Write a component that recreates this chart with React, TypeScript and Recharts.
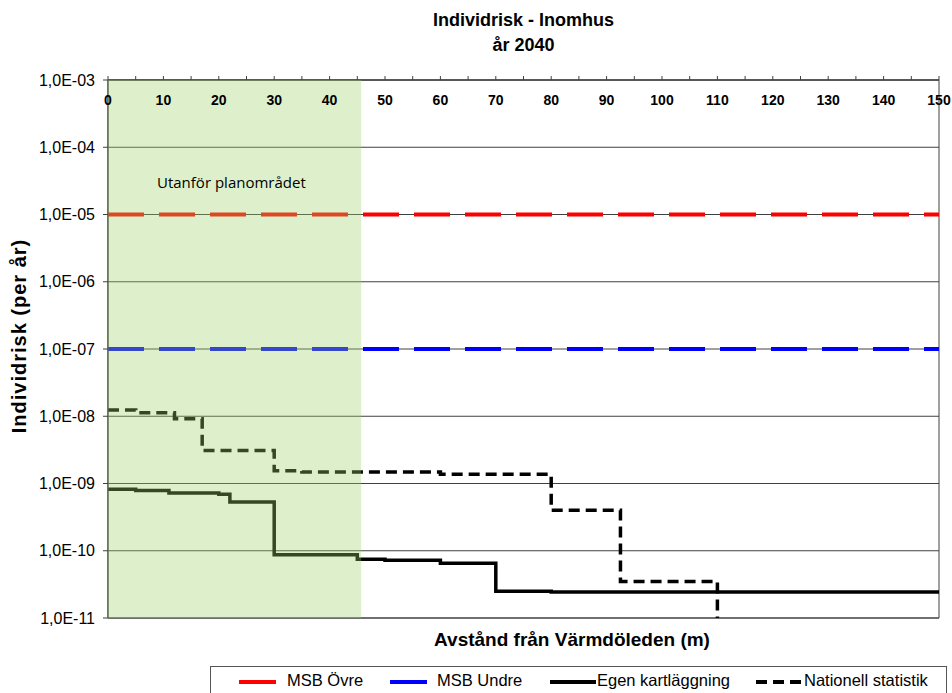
import { LineChart, Line, XAxis, YAxis, CartesianGrid, ReferenceArea } from 'recharts';

const FONT = '"Liberation Sans", Arial, sans-serif';

// distance from the road (m), ticks every 5 m, labels every 10 m
const distanceTicks = [0, 5, 10, 15, 20, 25, 30, 35, 40, 45, 50, 55, 60, 65, 70, 75, 80, 85, 90, 95, 100, 105, 110, 115, 120, 125, 130, 135, 140, 145, 150];
const riskTicks = [1e-3, 1e-4, 1e-5, 1e-6, 1e-7, 1e-8, 1e-9, 1e-10, 1e-11];

// MSB criteria
const msbUpper = [
  { distance: 0, risk: 1e-5 },
  { distance: 150, risk: 1e-5 },
];
const msbLower = [
  { distance: 0, risk: 1e-7 },
  { distance: 150, risk: 1e-7 },
];

// own mapping, step values
const ownDistances = [0, 5, 11, 20, 22, 30, 45, 50, 60, 70, 80, 150];
const ownRisk = [8.2e-10, 7.9e-10, 7.2e-10, 6.9e-10, 5.3e-10, 8.7e-11, 7.5e-11, 7.2e-11, 6.5e-11, 2.5e-11, 2.43e-11, 2.43e-11];

// national statistics, step values (falls below the axis after 110 m)
const nationalDistances = [0, 5, 12, 17, 30, 35, 60, 80, 92.5, 110, 150];
const nationalRisk = [1.24e-8, 1.13e-8, 9.2e-9, 3.1e-9, 1.55e-9, 1.48e-9, 1.37e-9, 4.0e-10, 3.5e-11, 1e-13, 1e-13];

const outsideZoneEnd = 45.7;

const ownData = ownDistances.map((d, i) => ({ distance: d, risk: ownRisk[i] }));
const nationalData = nationalDistances.map((d, i) => ({ distance: d, risk: nationalRisk[i] }));

const legendItems = [
  { name: 'MSB Övre', color: '#ff0000', dash: undefined, left: 239, line: 37, gap: 11 },
  { name: 'MSB Undre', color: '#0000ff', dash: undefined, left: 390, line: 37, gap: 10 },
  { name: 'Egen kartläggning', color: '#000000', dash: undefined, left: 550, line: 46, gap: 1 },
  { name: 'Nationell statistik', color: '#000000', dash: '11 6', left: 756, line: 45, gap: 3 },
];

function formatRisk(v: number) {
  const [m, e] = v.toExponential(1).split('e');
  const exp = parseInt(e, 10);
  const sign = exp < 0 ? '-' : '+';
  return `${m.replace('.', ',')}E${sign}${String(Math.abs(exp)).padStart(2, '0')}`;
}

function DistanceTick(props: any) {
  const { x, y, payload } = props;
  if (payload.value % 10 !== 0) return <g />;
  return (
    <text x={x} y={y + 31} textAnchor="middle" fontFamily={FONT} fontSize={14} fontWeight="bold" fill="#000">
      {payload.value}
    </text>
  );
}

function ZoneLabel(props: any) {
  const { viewBox } = props;
  return (
    <text x={viewBox.x + 49} y={viewBox.y + 108} fontFamily='"Open Sans", sans-serif' fontSize={15} fill="#000">
      Utanför planområdet
    </text>
  );
}

export default function App() {
  return (
    <div style={{ position: 'absolute', left: 0, top: 0, width: 952, height: 693, background: '#fff', fontFamily: FONT }}>
      <div style={{ position: 'absolute', left: 0, width: 1047, top: 8, textAlign: 'center', fontWeight: 'bold', fontSize: 18, lineHeight: '25px' }}>
        Individrisk - Inomhus
        <br />
        år 2040
      </div>
      <div
        style={{
          position: 'absolute',
          left: 19,
          top: 336,
          transform: 'translate(-50%, -50%) rotate(-90deg)',
          whiteSpace: 'nowrap',
          fontWeight: 'bold',
          fontSize: 20,
          letterSpacing: 1,
        }}
      >
        Individrisk (per år)
      </div>
      <div style={{ position: 'absolute', left: 572, top: 640, transform: 'translate(-50%, -50%)', whiteSpace: 'nowrap', fontWeight: 'bold', fontSize: 19 }}>
        Avstånd från Värmdöleden (m)
      </div>

      <LineChart width={952} height={693} margin={{ top: 50, right: 13, left: 8, bottom: 75 }} style={{ position: 'absolute', left: 0, top: 0 }}>
        <CartesianGrid vertical={false} stroke="#404040" strokeWidth={1} />
        <XAxis
          xAxisId={0}
          dataKey="distance"
          type="number"
          orientation="top"
          domain={[0, 150]}
          ticks={distanceTicks}
          interval={0}
          height={30}
          tickSize={4}
          tick={<DistanceTick />}
          stroke="#404040"
          allowDataOverflow
        />
        <YAxis
          yAxisId={0}
          scale="log"
          domain={[1e-11, 1e-3]}
          ticks={riskTicks}
          interval={0}
          width={100}
          tickSize={5}
          tickMargin={8}
          tickFormatter={formatRisk}
          tick={{ fill: '#000', fontSize: 16, fontFamily: FONT }}
          stroke="#404040"
          allowDataOverflow
        />
        <Line data={msbUpper} dataKey="risk" name="MSB Övre" stroke="#ff0000" strokeWidth={4} strokeDasharray="36 15" dot={false} isAnimationActive={false} />
        <Line data={msbLower} dataKey="risk" name="MSB Undre" stroke="#0000ff" strokeWidth={4} strokeDasharray="36 15" dot={false} isAnimationActive={false} />
        <Line data={ownData} dataKey="risk" name="Egen kartläggning" type="stepAfter" stroke="#000" strokeWidth={3.5} dot={false} isAnimationActive={false} />
        <Line data={nationalData} dataKey="risk" name="Nationell statistik" type="stepAfter" stroke="#000" strokeWidth={3.5} strokeDasharray="11 6" dot={false} isAnimationActive={false} />
        <ReferenceArea x1={0} x2={150} y1={1e-11} y2={1e-3} fill="none" stroke="#404040" strokeWidth={1} />
        <ReferenceArea
          x1={0}
          x2={outsideZoneEnd}
          y1={1e-11}
          y2={1e-3}
          fill="#9cd266"
          fillOpacity={0.34}
          stroke="none"
          zIndex={650}
          label={<ZoneLabel />}
        />
      </LineChart>

      <div style={{ position: 'absolute', left: 210, top: 666, width: 737, height: 40, border: '1px solid #555', boxSizing: 'border-box' }}>
        {legendItems.map((item) => (
          <div key={item.name} style={{ position: 'absolute', left: item.left - 211, top: 4, display: 'flex', alignItems: 'center', fontSize: 16.5, whiteSpace: 'nowrap' }}>
            <svg width={item.line} height={18}>
              <line x1={0} y1={10} x2={item.line} y2={10} stroke={item.color} strokeWidth={4} strokeDasharray={item.dash} />
            </svg>
            <span style={{ marginLeft: item.gap }}>{item.name}</span>
          </div>
        ))}
      </div>
    </div>
  );
}
